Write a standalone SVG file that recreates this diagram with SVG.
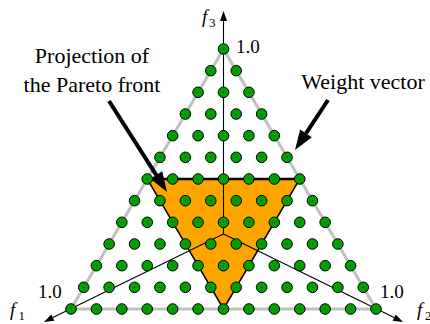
<svg xmlns="http://www.w3.org/2000/svg" width="430" height="324" viewBox="0 0 430 324">
<style>
text{font-family:'Liberation Serif','Times New Roman',serif;fill:#000}
.lbl{font-size:22px}
.num{font-size:19px}
.ax{font-size:19px;font-style:italic}
.sub{font-size:13px}
.edge{stroke:#c0c0c0;stroke-width:3;fill:none}
.axis{stroke:#000;stroke-width:1.1;fill:none}
.big{stroke:#000;stroke-width:4;fill:none}
</style>
<defs>
<marker id="ah" markerUnits="userSpaceOnUse" markerWidth="12" markerHeight="10" refX="0" refY="3.5" orient="auto" overflow="visible">
<path d="M0,0 L10,3.5 L0,7 z" fill="#000"/>
</marker>
<marker id="bh" markerUnits="userSpaceOnUse" markerWidth="22" markerHeight="16" refX="0" refY="7" orient="auto" overflow="visible">
<path d="M0,0 L20,7 L0,14 z" fill="#000"/>
</marker>
<g id="d"><circle r="5.3" fill="#00a000" stroke="#000" stroke-width="1"/><circle r="0.6" fill="#000"/></g>
</defs>
<rect width="430" height="324" fill="#fff"/>
<g id="edges">
<polygon class="edge" points="223.5,49 71,309 376,309"/>
</g>
<g id="pareto-front">
<polygon points="147.25,179 299.75,179 223.5,309" fill="#ffa500" stroke="#000" stroke-width="1.5"/>
<line x1="147.25" y1="179" x2="299.75" y2="179" stroke="#000" stroke-width="2.5"/>
</g>
<g id="connectors">
<line class="axis" x1="223.5" y1="234" x2="223.5" y2="21" marker-end="url(#ah)"/>
<line class="axis" x1="223.5" y1="234" x2="52.9" y2="317.6" marker-end="url(#ah)"/>
<line class="axis" x1="223.5" y1="234" x2="394.1" y2="317.6" marker-end="url(#ah)"/>
<line class="big" x1="109" y1="101" x2="156.3" y2="175.1" marker-end="url(#bh)"/>
<line class="big" x1="328" y1="100" x2="306" y2="133.3" marker-end="url(#bh)"/>
</g>
<g id="weights">
<use href="#d" x="223.5" y="49"/>
<use href="#d" x="210.79" y="70.67"/><use href="#d" x="236.21" y="70.67"/>
<use href="#d" x="198.08" y="92.33"/><use href="#d" x="223.5" y="92.33"/><use href="#d" x="248.92" y="92.33"/>
<use href="#d" x="185.38" y="114"/><use href="#d" x="210.79" y="114"/><use href="#d" x="236.21" y="114"/><use href="#d" x="261.63" y="114"/>
<use href="#d" x="172.67" y="135.67"/><use href="#d" x="198.08" y="135.67"/><use href="#d" x="223.5" y="135.67"/><use href="#d" x="248.92" y="135.67"/><use href="#d" x="274.33" y="135.67"/>
<use href="#d" x="159.96" y="157.33"/><use href="#d" x="185.38" y="157.33"/><use href="#d" x="210.79" y="157.33"/><use href="#d" x="236.21" y="157.33"/><use href="#d" x="261.63" y="157.33"/><use href="#d" x="287.04" y="157.33"/>
<use href="#d" x="147.25" y="179"/><use href="#d" x="172.67" y="179"/><use href="#d" x="198.08" y="179"/><use href="#d" x="223.5" y="179"/><use href="#d" x="248.92" y="179"/><use href="#d" x="274.33" y="179"/><use href="#d" x="299.75" y="179"/>
<use href="#d" x="134.54" y="200.67"/><use href="#d" x="159.96" y="200.67"/><use href="#d" x="185.38" y="200.67"/><use href="#d" x="210.79" y="200.67"/><use href="#d" x="236.21" y="200.67"/><use href="#d" x="261.63" y="200.67"/><use href="#d" x="287.04" y="200.67"/><use href="#d" x="312.46" y="200.67"/>
<use href="#d" x="121.83" y="222.33"/><use href="#d" x="147.25" y="222.33"/><use href="#d" x="172.67" y="222.33"/><use href="#d" x="198.08" y="222.33"/><use href="#d" x="223.5" y="222.33"/><use href="#d" x="248.92" y="222.33"/><use href="#d" x="274.33" y="222.33"/><use href="#d" x="299.75" y="222.33"/><use href="#d" x="325.17" y="222.33"/>
<use href="#d" x="109.13" y="244"/><use href="#d" x="134.54" y="244"/><use href="#d" x="159.96" y="244"/><use href="#d" x="185.38" y="244"/><use href="#d" x="210.79" y="244"/><use href="#d" x="236.21" y="244"/><use href="#d" x="261.63" y="244"/><use href="#d" x="287.04" y="244"/><use href="#d" x="312.46" y="244"/><use href="#d" x="337.88" y="244"/>
<use href="#d" x="96.42" y="265.67"/><use href="#d" x="121.83" y="265.67"/><use href="#d" x="147.25" y="265.67"/><use href="#d" x="172.67" y="265.67"/><use href="#d" x="198.08" y="265.67"/><use href="#d" x="223.5" y="265.67"/><use href="#d" x="248.92" y="265.67"/><use href="#d" x="274.33" y="265.67"/><use href="#d" x="299.75" y="265.67"/><use href="#d" x="325.17" y="265.67"/><use href="#d" x="350.58" y="265.67"/>
<use href="#d" x="83.71" y="287.33"/><use href="#d" x="109.13" y="287.33"/><use href="#d" x="134.54" y="287.33"/><use href="#d" x="159.96" y="287.33"/><use href="#d" x="185.38" y="287.33"/><use href="#d" x="210.79" y="287.33"/><use href="#d" x="236.21" y="287.33"/><use href="#d" x="261.63" y="287.33"/><use href="#d" x="287.04" y="287.33"/><use href="#d" x="312.46" y="287.33"/><use href="#d" x="337.88" y="287.33"/><use href="#d" x="363.29" y="287.33"/>
<use href="#d" x="71" y="309"/><use href="#d" x="96.42" y="309"/><use href="#d" x="121.83" y="309"/><use href="#d" x="147.25" y="309"/><use href="#d" x="172.67" y="309"/><use href="#d" x="198.08" y="309"/><use href="#d" x="223.5" y="309"/><use href="#d" x="248.92" y="309"/><use href="#d" x="274.33" y="309"/><use href="#d" x="299.75" y="309"/><use href="#d" x="325.17" y="309"/><use href="#d" x="350.58" y="309"/><use href="#d" x="376" y="309"/>
</g>
<g id="label-pareto">
<text class="lbl" x="92" y="63" text-anchor="middle">Projection of</text>
<text class="lbl" x="92" y="92" text-anchor="middle">the Pareto front</text>
</g>
<g id="label-weight">
<text class="lbl" x="363" y="89" text-anchor="middle">Weight vector</text>
</g>
<g id="axis-labels">
<text class="ax" x="202" y="23">f</text><text class="sub" x="209" y="27">3</text>
<text class="ax" x="10" y="316">f</text><text class="sub" x="18.5" y="320">1</text>
<text class="ax" x="417" y="316">f</text><text class="sub" x="425" y="320">2</text>
<text class="num" x="236" y="53">1.0</text>
<text class="num" x="38" y="298">1.0</text>
<text class="num" x="380" y="298">1.0</text>
</g>
</svg>
